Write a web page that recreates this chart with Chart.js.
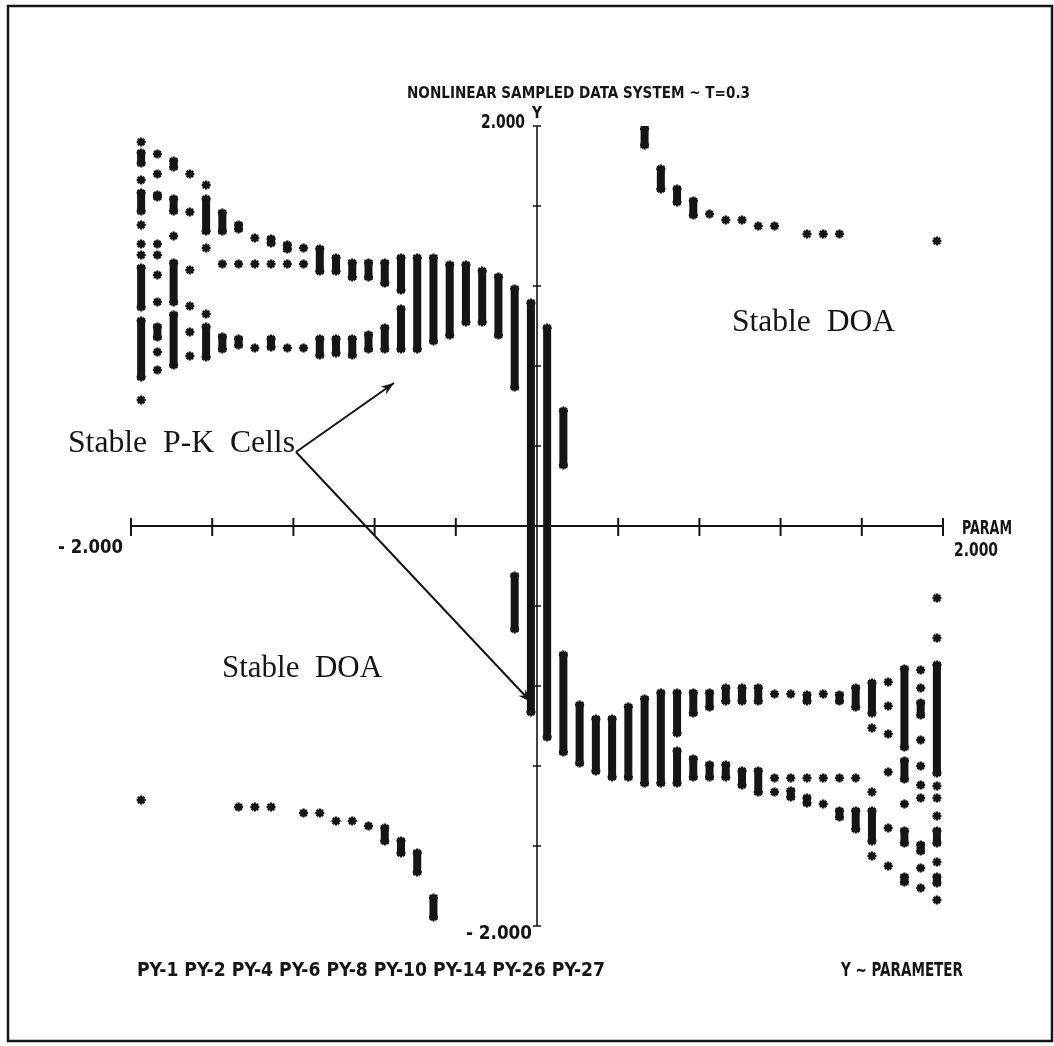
<!DOCTYPE html>
<html>
<head>
<meta charset="utf-8">
<title>Nonlinear sampled data system</title>
<script src="https://cdn.jsdelivr.net/npm/chart.js@4/dist/chart.umd.min.js"></script>
<style>
  html, body { margin: 0; padding: 0; background: #fff; }
  canvas { display: block; }
</style>
</head>
<body>
<canvas id="pkChart" width="1054" height="1046"></canvas>
<script>
// axis ticks (both axes run -2 .. 2)
const axisTicks = [-2, -1.6, -1.2, -0.8, -0.4, 0, 0.4, 0.8, 1.2, 1.6, 2]

// runs of packed asterisks: [param, top, bottom]
// upper stable P-K cells (param < 0)
const upperCellRuns = [
    [-1.95, 1.88, 1.80], [-1.95, 1.68, 1.56], [-1.95, 1.305, 1.08], [-1.95, 1.04, 0.73],
    [-1.87, 1.67, 1.63], [-1.87, 1.01, 0.93],
    [-1.79, 1.84, 1.78], [-1.79, 1.65, 1.56], [-1.79, 1.33, 1.105], [-1.79, 1.07, 0.79],
    [-1.63, 1.65, 1.46], [-1.63, 1.01, 0.83],
    [-1.55, 1.58, 1.46], [-1.55, 0.96, 0.87],
    [-1.47, 1.52, 1.47], [-1.47, 0.95, 0.89],
    [-1.31, 1.45, 1.40], [-1.31, 0.95, 0.88],
    [-1.23, 1.42, 1.37],
    [-1.07, 1.40, 1.26], [-1.07, 0.95, 0.84],
    [-0.99, 1.355, 1.26], [-0.99, 0.95, 0.85],
    [-0.91, 1.33, 1.23], [-0.91, 0.95, 0.84],
    [-0.83, 1.33, 1.23], [-0.83, 0.97, 0.87],
    [-0.75, 1.33, 1.20], [-0.75, 1.005, 0.87],
    [-0.67, 1.355, 1.165], [-0.67, 1.10, 0.87],
    [-0.59, 1.355, 0.87],
    [-0.51, 1.355, 0.91],
    [-0.43, 1.32, 0.94],
    [-0.35, 1.32, 1.005],
    [-0.27, 1.29, 1.005],
    [-0.19, 1.26, 0.94],
    [-0.11, 1.20, 0.68]
]
const upperCellStars = [
    [-1.95, 1.92], [-1.95, 1.73], [-1.95, 1.505], [-1.95, 1.41], [-1.95, 1.355], [-1.95, 0.63],
    [-1.87, 1.86], [-1.87, 1.76], [-1.87, 1.41], [-1.87, 1.355], [-1.87, 1.255], [-1.87, 1.12], [-1.87, 0.87], [-1.87, 0.78],
    [-1.79, 1.45],
    [-1.71, 1.76], [-1.71, 1.57], [-1.71, 1.28], [-1.71, 1.10], [-1.71, 0.97], [-1.71, 0.85],
    [-1.63, 1.705], [-1.63, 1.39], [-1.63, 1.06],
    [-1.55, 1.31], [-1.47, 1.31],
    [-1.39, 1.44], [-1.39, 1.31], [-1.39, 0.89],
    [-1.31, 1.31],
    [-1.23, 1.31], [-1.23, 0.89],
    [-1.15, 1.39], [-1.15, 1.31], [-1.15, 0.89]
]

// columns crossing the axis near param = 0
const centreRuns = [
    [-0.11, -0.235, -0.53],
    [-0.03, 1.13, -0.945],
    [0.05, 1.005, -1.07],
    [0.13, 0.59, 0.29], [0.13, -0.63, -1.145],
    [0.21, -0.88, -1.20]
]

// lower stable P-K cells (param > 0)
const lowerCellRuns = [
    [0.29, -0.95, -1.24], [0.37, -0.95, -1.27], [0.45, -0.89, -1.27],
    [0.53, -0.85, -1.30], [0.61, -0.82, -1.30],
    [0.69, -0.82, -1.05], [0.69, -1.11, -1.30],
    [0.77, -0.82, -0.95], [0.77, -1.15, -1.27],
    [0.85, -0.82, -0.92], [0.85, -1.18, -1.27],
    [0.93, -0.795, -0.89], [0.93, -1.18, -1.27],
    [1.01, -0.795, -0.89], [1.01, -1.21, -1.31],
    [1.09, -0.795, -0.89], [1.09, -1.21, -1.345],
    [1.25, -1.31, -1.37],
    [1.33, -0.83, -0.89], [1.33, -1.345, -1.40],
    [1.49, -0.83, -0.89], [1.49, -1.41, -1.47],
    [1.57, -0.795, -0.92], [1.57, -1.41, -1.53],
    [1.65, -0.77, -0.95], [1.65, -1.41, -1.59],
    [1.81, -0.70, -1.12], [1.81, -1.16, -1.28], [1.81, -1.51, -1.60], [1.81, -1.74, -1.795],
    [1.89, -0.87, -0.96], [1.89, -1.58, -1.64],
    [1.97, -0.68, -1.25], [1.97, -1.51, -1.60], [1.97, -1.74, -1.80]
]
const lowerCellStars = [
    [1.17, -0.84], [1.17, -1.26], [1.17, -1.33],
    [1.25, -0.84], [1.25, -1.26],
    [1.33, -1.26],
    [1.41, -0.84], [1.41, -1.26], [1.41, -1.39],
    [1.49, -1.26], [1.57, -1.26],
    [1.65, -1.01], [1.65, -1.33], [1.65, -1.65],
    [1.73, -0.78], [1.73, -0.90], [1.73, -1.04], [1.73, -1.23], [1.73, -1.51], [1.73, -1.70],
    [1.81, -1.39],
    [1.89, -0.72], [1.89, -0.81], [1.89, -1.07], [1.89, -1.20], [1.89, -1.295], [1.89, -1.36], [1.89, -1.71], [1.89, -1.81],
    [1.97, -0.36], [1.97, -0.56], [1.97, -1.30], [1.97, -1.36], [1.97, -1.45], [1.97, -1.68], [1.97, -1.87]
]

// stable domains of attraction
const doaRuns = [
    [0.53, 2.00, 1.89], [0.61, 1.80, 1.67], [0.69, 1.70, 1.605], [0.77, 1.64, 1.54],
    [-0.75, -1.495, -1.59], [-0.67, -1.56, -1.65], [-0.59, -1.62, -1.745], [-0.51, -1.845, -1.97]
]
const doaStars = [
    [0.85, 1.56], [0.93, 1.53], [1.01, 1.53], [1.09, 1.50], [1.17, 1.50],
    [1.33, 1.46], [1.41, 1.46], [1.49, 1.46], [1.97, 1.425],
    [-1.95, -1.37], [-1.47, -1.405], [-1.39, -1.405], [-1.31, -1.405],
    [-1.15, -1.435], [-1.07, -1.435], [-0.99, -1.475], [-0.91, -1.475], [-0.83, -1.50]
]

const titleText = 'NONLINEAR SAMPLED DATA SYSTEM ~ T=0.3'
const legendText = 'PY-1 PY-2 PY-4 PY-6 PY-8 PY-10 PY-14 PY-26 PY-27'
const axisNote = 'Y ~ PARAMETER'

const INK = '#151515'
const PLOT_FONT = "'DejaVu Sans Condensed', 'Liberation Sans Narrow', 'DejaVu Sans', sans-serif"
const SERIF_FONT = "'Liberation Serif', 'DejaVu Serif', serif"

// runs become line pieces, broken by null points; their ends get a star each
const allRuns = [...upperCellRuns, ...centreRuns, ...lowerCellRuns, ...doaRuns]
const runPoints = allRuns.flatMap(([x, top, bottom]) => [{x: x, y: top}, {x: x, y: bottom}, {x: x, y: null}])
const runEnds = allRuns.flatMap(([x, top, bottom]) => [{x: x, y: top - 0.015}, {x: x, y: bottom + 0.015}])
const starPoints = [...upperCellStars, ...lowerCellStars, ...doaStars].map(([x, y]) => ({x: x, y: y}))

// draw text squeezed/stretched to a given width
function fitText(ctx, text, x, y, w) {
    const m = ctx.measureText(text).width
    ctx.save()
    ctx.translate(x, y)
    ctx.scale(w / m, 1)
    ctx.fillText(text, 0, 0)
    ctx.restore()
}

function arrow(ctx, x1, y1, x2, y2) {
    ctx.beginPath()
    ctx.moveTo(x1, y1)
    ctx.lineTo(x2, y2)
    ctx.stroke()
    const a = Math.atan2(y2 - y1, x2 - x1)
    ctx.beginPath()
    ctx.moveTo(x2, y2)
    ctx.lineTo(x2 - 14 * Math.cos(a - 0.35), y2 - 14 * Math.sin(a - 0.35))
    ctx.lineTo(x2 - 9 * Math.cos(a), y2 - 9 * Math.sin(a))
    ctx.lineTo(x2 - 14 * Math.cos(a + 0.35), y2 - 14 * Math.sin(a + 0.35))
    ctx.closePath()
    ctx.fill()
}

// axes crossing at the origin, ticks through the line
const crossAxes = {
    id: 'crossAxes',
    beforeDatasetsDraw(chart) {
        const {ctx, scales: {x, y}} = chart
        const x0 = x.getPixelForValue(0)
        const y0 = y.getPixelForValue(0)
        ctx.save()
        ctx.strokeStyle = INK
        ctx.lineWidth = 2
        ctx.beginPath()
        ctx.moveTo(x.getPixelForValue(-2), y0)
        ctx.lineTo(x.getPixelForValue(2), y0)
        axisTicks.forEach(v => {
            if (v === 0) return
            const px = x.getPixelForValue(v)
            ctx.moveTo(px, y0 - 8)
            ctx.lineTo(px, y0 + 10)
        })
        ctx.stroke()

        ctx.lineWidth = 1.6
        ctx.beginPath()
        ctx.moveTo(x0, y.getPixelForValue(2))
        ctx.lineTo(x0, y.getPixelForValue(-2))
        axisTicks.forEach(v => {
            if (v === 0) return
            const py = y.getPixelForValue(v)
            ctx.moveTo(x0 - 4, py)
            ctx.lineTo(x0 + 4, py)
        })
        ctx.stroke()
        ctx.restore()
    }
}

// frame, plotter labels, annotations and arrows
const pageText = {
    id: 'pageText',
    afterDraw(chart) {
        const {ctx, scales: {x, y}} = chart
        const x0 = x.getPixelForValue(0)
        ctx.save()
        ctx.strokeStyle = INK
        ctx.fillStyle = INK

        // page frame
        ctx.lineWidth = 2.5
        ctx.strokeRect(8, 6, 1044, 1035)

        // plotter text
        ctx.textBaseline = 'alphabetic'
        ctx.font = 'bold 16px ' + PLOT_FONT
        fitText(ctx, titleText, 407, 98, 343)
        ctx.font = 'bold 20px ' + PLOT_FONT
        fitText(ctx, '2.000', 481, 128, 44)
        ctx.font = 'bold 16px ' + PLOT_FONT
        fitText(ctx, 'Y', x0 - 5, 118, 10)
        ctx.font = 'bold 20px ' + PLOT_FONT
        fitText(ctx, '- 2.000', 58, 553, 65)
        fitText(ctx, 'PARAM', 962, 534, 50)
        fitText(ctx, '2.000', 954, 556, 44)
        fitText(ctx, '- 2.000', 466, 939, 66)
        fitText(ctx, legendText, 137, 976, 468)
        fitText(ctx, axisNote, 841, 976, 122)

        // annotations
        ctx.font = '31px ' + SERIF_FONT
        fitText(ctx, 'Stable  DOA', 732, 331, 163)
        fitText(ctx, 'Stable  P-K  Cells', 68, 452, 227)
        fitText(ctx, 'Stable  DOA', 222, 677, 160)

        ctx.lineWidth = 2
        arrow(ctx, 296, 452, 394, 383)
        arrow(ctx, 296, 452, 531, 702)
        ctx.restore()
    }
}

new Chart(document.getElementById('pkChart'), {
    type: 'scatter',
    data: {
        datasets: [{
            label: 'packed cells',
            data: runPoints,
            showLine: true,
            spanGaps: false,
            borderColor: INK,
            borderWidth: 8,
            borderCapStyle: 'butt',
            pointRadius: 0,
            pointHoverRadius: 0
        }, {
            label: 'run ends',
            data: runEnds,
            pointStyle: 'star',
            pointRadius: 4.5,
            pointHoverRadius: 4.5,
            borderColor: INK,
            backgroundColor: INK,
            borderWidth: 2.4
        }, {
            label: 'single cells',
            data: starPoints,
            pointStyle: 'star',
            pointRadius: 4.5,
            pointHoverRadius: 4.5,
            borderColor: INK,
            backgroundColor: INK,
            borderWidth: 2.4
        }]
    },
    options: {
        responsive: false,
        animation: false,
        devicePixelRatio: 1,
        layout: {padding: {left: 131, right: 111, top: 126, bottom: 120}},
        plugins: {legend: {display: false}, tooltip: {enabled: false}},
        scales: {
            x: {type: 'linear', min: -2, max: 2, display: false},
            y: {type: 'linear', min: -2, max: 2, display: false}
        }
    },
    plugins: [crossAxes, pageText]
})
</script>
</body>
</html>
